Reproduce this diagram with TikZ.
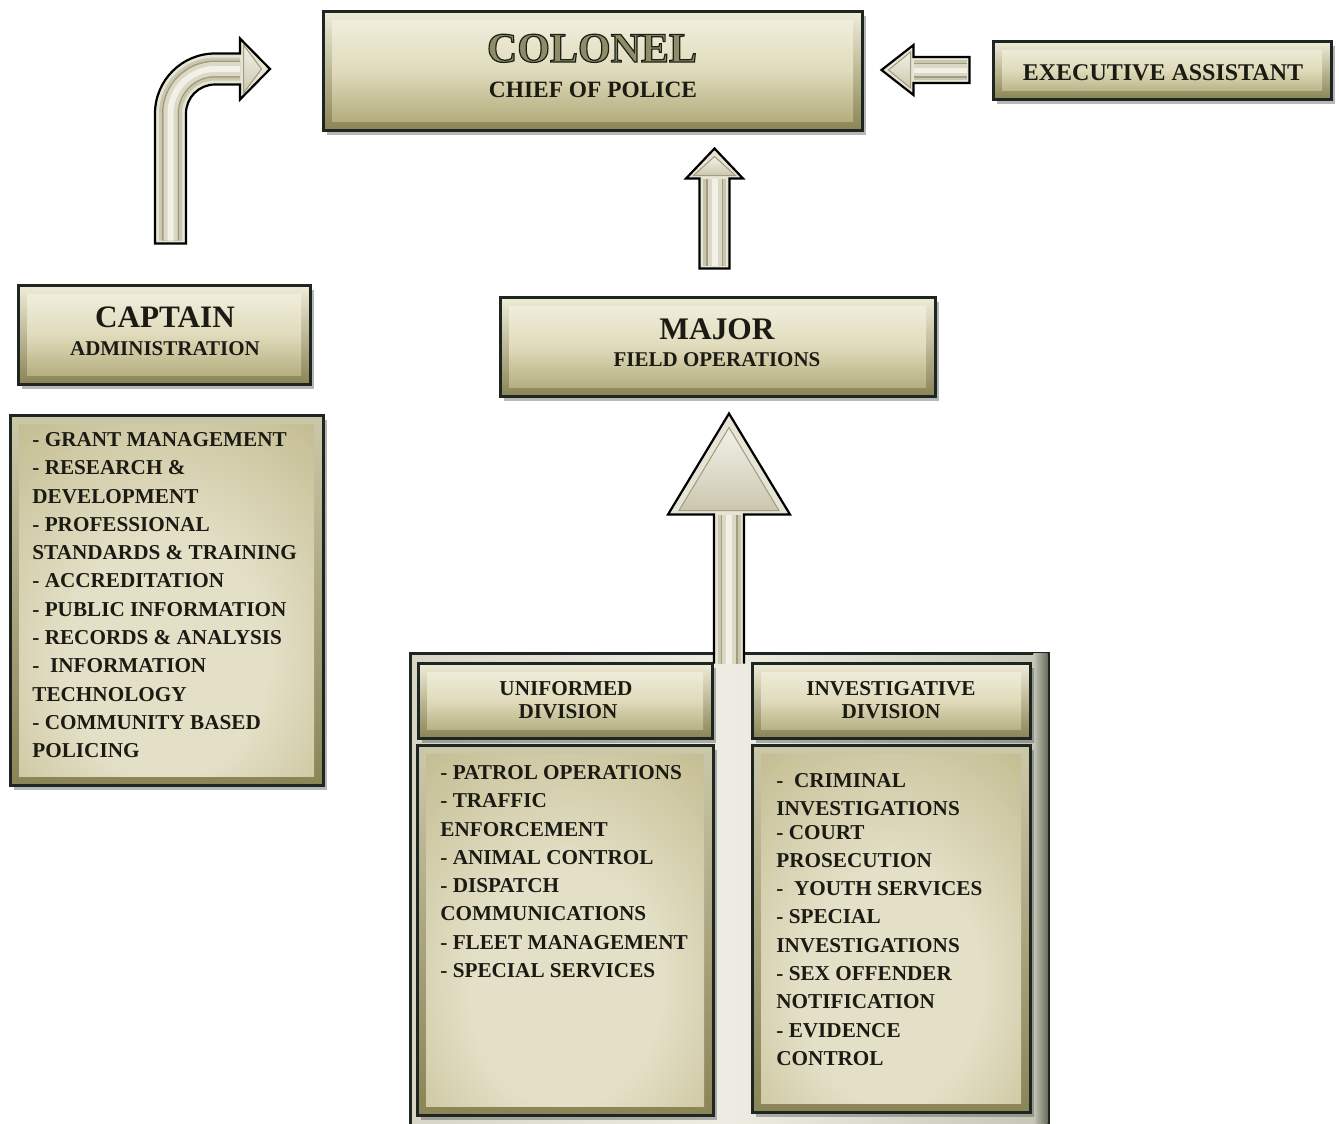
\documentclass[tikz,border=0pt]{standalone}
\usepackage{fontspec}
\setmainfont{Liberation Serif}
\usetikzlibrary{shadows,calc}
\definecolor{frame}{HTML}{1D2620}
\definecolor{bevtop}{HTML}{EFEDD8}
\definecolor{bevbot}{HTML}{8A8456}
\definecolor{intop}{HTML}{F3F1E3}
\definecolor{inmid}{HTML}{E0DBBB}
\definecolor{inbot}{HTML}{ACA574}
\definecolor{listin}{HTML}{E4E0C7}
\definecolor{listmid}{HTML}{BDB586}
\definecolor{listout}{HTML}{928A5A}
\definecolor{ink}{HTML}{1B1B14}
\definecolor{arrfill}{HTML}{E6E4D4}
\definecolor{arrmid}{HTML}{CBC7AE}
\definecolor{arrdark}{HTML}{A29D80}
\definecolor{arrlight}{HTML}{F2F1E8}
\definecolor{colfill}{HTML}{8E8D68}
\definecolor{contL}{HTML}{D6D5C6}
\definecolor{contM}{HTML}{EEEDE3}
\definecolor{contR}{HTML}{C4C5B5}
\definecolor{contS}{HTML}{6A7160}
\pgfdeclareradialshading{listshade}{\pgfpoint{0bp}{-10bp}}{color(0bp)=(listin); color(16bp)=(listin); color(42bp)=(listmid); color(72bp)=(listout)}
\newcommand\outl[1]{{\color{colfill}\special{pdf:literal 2 Tr 0.6 w 0.11 0.13 0.09 RG}#1\special{pdf:literal 0 Tr}}}
\tikzset{
  sz/.style 2 args={minimum width=#1*0.5pt, minimum height=#2*0.5pt},
  shadowed/.style={drop shadow={shadow xshift=2pt, shadow yshift=-2.5pt, opacity=.4, fill=black!70}},
  plate/.style={shadowed, draw=frame, line width=1.5pt, top color=bevtop, bottom color=bevbot, inner sep=0pt,
    path picture={\shade[top color=intop, bottom color=inbot, middle color=inmid]
      ([shift={(4.5pt,-4.5pt)}]path picture bounding box.north west) rectangle
      ([shift={(-4.5pt,4.5pt)}]path picture bounding box.south east);}},
  listplate/.style={shadowed, draw=frame, line width=1.5pt, top color=bevtop!65!bevbot, bottom color=bevbot, inner sep=0pt,
    path picture={\shade[shading=listshade]
      ([shift={(4.5pt,-4.5pt)}]path picture bounding box.north west) rectangle
      ([shift={(-4.5pt,4.5pt)}]path picture bounding box.south east);}},
  lbl/.style={inner sep=0pt, text=ink, anchor=base, font=\bfseries\fontsize{10.6}{12}\selectfont},
  listtxt/.style={inner sep=0pt, text=ink, anchor=north west, align=left, font=\bfseries\fontsize{10.6}{14.15}\selectfont},
  arrbody/.style={fill=arrfill, draw=black, line width=1.1pt, line join=miter},
  tubeA/.style={draw=arrmid, line width=11.5pt},
  tubeB/.style={draw=arrdark, line width=8.5pt},
  tubeC/.style={draw=arrmid!60!arrlight, line width=7pt},
  tubeD/.style={draw=arrlight, line width=3pt},
  headin/.style={top color=arrlight, bottom color=arrmid, draw=arrdark, line width=0.5pt, line join=miter}
}
\begin{document}
\begin{tikzpicture}[x=0.5pt,y=-0.5pt]
\fill[white] (0,0) rectangle (1339,1124);
\useasboundingbox (0,0) rectangle (1339,1124);

% ---------- boxes ----------
\node[plate, sz={539}{119}] (colonel) at (592.5,70.5) {};
\node[plate, sz={338}{58}] (ea) at (1162,70) {};
\node[plate, sz={292}{99}] (captain) at (164,334.5) {};
\node[listplate, sz={313}{370}] (admin) at (166.5,600) {};
\node[plate, sz={435}{99}] (major) at (717.5,346.5) {};
\node[draw=frame, line width=1.5pt, sz={638}{482}, left color=contL, right color=contR, middle color=contM, inner sep=0pt] (container) at (729,894) {};
\shade[left color=contR, right color=contS] ($(container.north east)+(-16,2)$) rectangle ($(container.south east)+(-2,0)$);
\node[plate, sz={294}{75}] (unifhead) at (565,700.5) {};
\node[plate, sz={278}{75}] (invhead) at (891,700.5) {};
\node[listplate, sz={296}{370}] (uniflist) at (565,930) {};
\node[listplate, sz={278}{367}] (invlist) at (891,928.5) {};

% ---------- arrow: Major -> Colonel ----------
\coordinate (a1) at ($(major.north)+(-3,-27)$);
\filldraw[arrbody] ($(a1)+(-15,0)$) -- ++(0,-90) -- ++(-13.5,0) -- ++(28.5,-30) -- ++(28.5,30) -- ++(-13.5,0) -- ++(0,90) -- cycle;
\foreach \s in {tubeA,tubeB,tubeC,tubeD}{\draw[\s] ($(a1)+(0,-3)$) -- ($(a1)+(0,-90)$);}
\filldraw[headin] ($(a1)+(-21,-93)$) -- ($(a1)+(0,-112)$) -- ($(a1)+(21,-93)$) -- cycle;

% ---------- arrow: Divisions -> Major ----------
\coordinate (a2) at ($(container.north)+(0,12)$);
\fill[arrfill] ($(a2)+(-15,0)$) -- ++(0,-149) -- ++(-46,0) -- ++(61,-101) -- ++(61,101) -- ++(-46,0) -- ++(0,149) -- cycle;
\draw[black, line width=1.1pt, line join=miter] ($(a2)+(-15,0)$) -- ++(0,-149) -- ++(-46,0) -- ++(61,-101) -- ++(61,101) -- ++(-46,0) -- ++(0,149);
\foreach \s in {tubeA,tubeB,tubeC,tubeD}{\draw[\s] (a2) -- ($(a2)+(0,-149)$);}
\filldraw[headin] ($(a2)+(-50,-153)$) -- ($(a2)+(0,-236)$) -- ($(a2)+(50,-153)$) -- cycle;

% ---------- arrow: Executive Assistant -> Colonel ----------
\coordinate (a3) at ($(ea.west)+(-22,0)$);
\filldraw[arrbody] ($(a3)+(0,-13)$) -- ++(-56,0) -- ++(0,-12) -- ++(-32,25) -- ++(32,25) -- ++(0,-12) -- ++(56,0) -- cycle;
\draw[tubeA, line width=10pt] ($(a3)+(-3,0)$) -- ($(a3)+(-56,0)$);
\draw[tubeB, line width=7.5pt] ($(a3)+(-3,0)$) -- ($(a3)+(-56,0)$);
\draw[tubeC, line width=6pt] ($(a3)+(-3,0)$) -- ($(a3)+(-56,0)$);
\draw[tubeD, line width=2.5pt] ($(a3)+(-3,0)$) -- ($(a3)+(-56,0)$);
\filldraw[headin] ($(a3)+(-59,-18)$) -- ($(a3)+(-81,0)$) -- ($(a3)+(-59,18)$) -- cycle;

% ---------- arrow: Captain -> Colonel (bent) ----------
\coordinate (a4) at ($(captain.north)+(6.5,-40)$);
\filldraw[arrbody] ($(a4)+(-15.5,0)$) -- ++(0,-130) arc[start angle=180, end angle=270, radius=60]
  -- ++(25,0) -- ++(0,-15) -- ++(30,30.5) -- ++(-30,30.5) -- ++(0,-15) -- ++(-25,0)
  arc[start angle=270, end angle=180, radius=29] -- ++(0,130) -- cycle;
\foreach \s in {tubeA,tubeB,tubeC,tubeD}{\draw[\s] ($(a4)+(0,-3)$) -- ++(0,-127) arc[start angle=180, end angle=270, radius=44.5] -- ++(25,0);}
\filldraw[headin] ($(a4)+(73,-198.5)$) -- ($(a4)+(91,-174.5)$) -- ($(a4)+(73,-150.5)$) -- cycle;

% ---------- texts ----------
\node[lbl, font=\bfseries\fontsize{21}{24}\selectfont] (colonelT) at (592,62) {\outl{COLONEL}};
\node[lbl, font=\bfseries\fontsize{11.7}{13}\selectfont] (colonelS) at (593,97) {CHIEF OF POLICE};
\node[lbl, font=\bfseries\fontsize{12}{14}\selectfont] (eaT) at (1163,80) {EXECUTIVE ASSISTANT};
\node[lbl, font=\bfseries\fontsize{15.6}{18}\selectfont] (captainT) at (165,327) {CAPTAIN};
\node[lbl, font=\bfseries\fontsize{10.5}{12}\selectfont] (captainS) at (165,355) {ADMINISTRATION};
\node[lbl, font=\bfseries\fontsize{15.7}{18}\selectfont] (majorT) at (717,339) {MAJOR};
\node[lbl, font=\bfseries\fontsize{10.5}{12}\selectfont] (majorS) at (717,366) {FIELD OPERATIONS};
\node[lbl] (unifT) at (566,695) {UNIFORMED};
\node[lbl] (unifS) at (568,718) {DIVISION};
\node[lbl] (invT) at (891,695) {INVESTIGATIVE};
\node[lbl] (invS) at (891,718) {DIVISION};

\node[listtxt] (adminT) at (32,432) {- GRANT MANAGEMENT\\- RESEARCH \&\\DEVELOPMENT\\- PROFESSIONAL\\STANDARDS \& TRAINING\\- ACCREDITATION\\- PUBLIC INFORMATION\\- RECORDS \& ANALYSIS\\-\enspace INFORMATION\\TECHNOLOGY\\- COMMUNITY BASED\\POLICING};
\node[listtxt] (unifL) at (440,765) {- PATROL OPERATIONS\\- TRAFFIC\\ENFORCEMENT\\- ANIMAL CONTROL\\- DISPATCH\\COMMUNICATIONS\\- FLEET MANAGEMENT\\- SPECIAL SERVICES};
\node[listtxt] (invL) at (776,773) {-\enspace CRIMINAL\\INVESTIGATIONS\\[-2.5pt]- COURT\\PROSECUTION\\-\enspace YOUTH SERVICES\\- SPECIAL\\INVESTIGATIONS\\- SEX OFFENDER\\NOTIFICATION\\- EVIDENCE\\CONTROL};
\end{tikzpicture}
\end{document}
